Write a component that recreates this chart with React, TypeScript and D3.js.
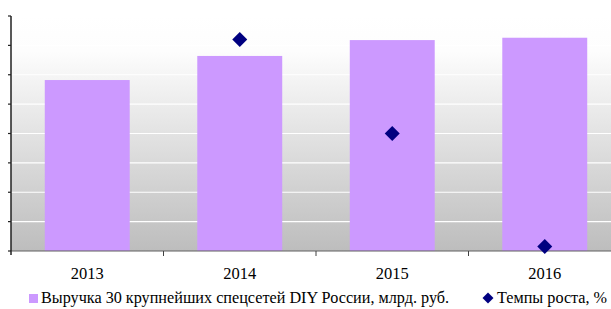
import React from 'react';
import * as d3 from 'd3';

const years = ['2013', '2014', '2015', '2016'];
const revenue = [291, 332, 359, 363]; // млрд. руб.
const growthYears = ['2014', '2015', '2016'];
const growth = [14.4, 8.0, 0.3]; // %
const revenueLabel = 'Выручка 30 крупнейших спецсетей DIY России, млрд. руб.';
const growthLabel = 'Темпы роста, %';

const W = 611;
const H = 309;
const left = 11;
const right = 621;
const top = 16;
const bottom = 251;

const App = () => {
  const x = d3.scaleBand<string>().domain(years).range([left, right]).padding(0);
  const y = d3.scaleLinear().domain([0, 400]).range([bottom, top]);
  const y2 = d3.scaleLinear().domain([0, 16]).range([bottom, top]);
  const barW = x.bandwidth() * 0.557;
  const gridTicks = y.ticks(8);
  const diamond = d3.symbol(d3.symbolSquare, 112)();

  return (
    <svg width={W} height={H} style={{ position: 'absolute', left: 0, top: 0, fontFamily: '"Liberation Serif", "Times New Roman", serif' }}>
      <defs>
        <linearGradient id="bg" x1="0" y1="0" x2="0" y2="1">
          <stop offset="0" stopColor="#ffffff" />
          <stop offset="0.15" stopColor="#fdfdfd" />
          <stop offset="1" stopColor="#bdbdbd" />
        </linearGradient>
      </defs>
      <rect x={left} y={top} width={right - left} height={bottom - top} fill="url(#bg)" />
      {/* gridlines */}
      {gridTicks.filter(t => t > 0).map(t => (
        <line key={t} x1={left} x2={right} y1={y(t)} y2={y(t)} stroke="#ffffff" strokeWidth={1.2} />
      ))}
      {/* bars */}
      {years.map((yr, i) => (
        <rect key={yr} x={x(yr)! + (x.bandwidth() - barW) / 2} y={y(revenue[i])}
          width={barW} height={bottom - y(revenue[i])} fill="#cc99ff" />
      ))}
      {/* x axis */}
      <line x1={left} x2={right} y1={bottom} y2={bottom} stroke="#606060" strokeWidth={1.2} />
      {years.map(yr => (
        <line key={yr} x1={x(yr)! + x.bandwidth()} x2={x(yr)! + x.bandwidth()} y1={bottom} y2={bottom + 5} stroke="#404040" />
      ))}
      {years.map(yr => (
        <text key={yr} x={x(yr)! + x.bandwidth() / 2} y={279} textAnchor="middle" fontSize={16.5} fill="#000">{yr}</text>
      ))}
      {/* y axis */}
      <line x1={left} x2={left} y1={top} y2={bottom + 4} stroke="#222" strokeWidth={1.5} />
      {gridTicks.map(t => (
        <line key={t} x1={left - 3} x2={left} y1={y(t)} y2={y(t)} stroke="#222" strokeWidth={1.2} />
      ))}
      {/* growth markers */}
      {growthYears.map((yr, i) => (
        <path key={yr} d={diamond!} fill="#000080"
          transform={`translate(${x(yr)! + x.bandwidth() / 2},${y2(growth[i])}) rotate(45)`} />
      ))}
      {/* legend */}
      <rect x={29} y={294} width={9} height={9} fill="#cc99ff" />
      <text x={41} y={303} fontSize={16.2} fill="#000">{revenueLabel}</text>
      <path d={d3.symbol(d3.symbolSquare, 60)()!} fill="#000080" transform="translate(488,298) rotate(45)" />
      <text x={497} y={303} fontSize={16.2} fill="#000">{growthLabel}</text>
    </svg>
  );
};

export default App;
